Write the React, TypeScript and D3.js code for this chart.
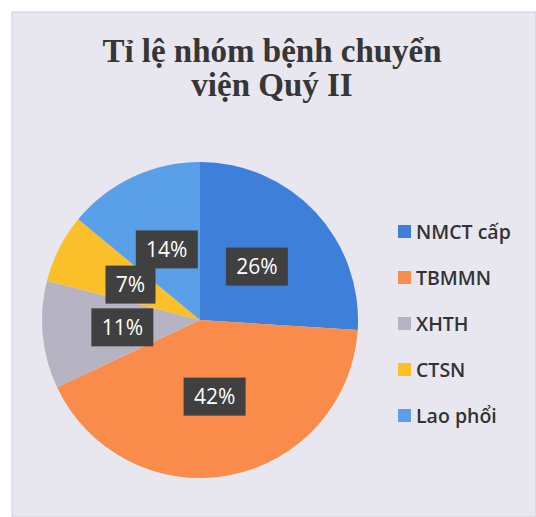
import React, { useEffect, useRef } from "react";
import * as d3 from "d3";

const categories = ["NMCT cấp", "TBMMN", "XHTH", "CTSN", "Lao phổi"];
const values = [26, 42, 11, 7, 14];
const colors = ["#3d7fd9", "#f98c4a", "#b6b3c2", "#fbbf2a", "#5aa0e8"];
const titleLines = ["Tỉ lệ nhóm bệnh chuyển", "viện Quý II"];

const App = () => {
  const svgRef = useRef<SVGSVGElement>(null);

  useEffect(() => {
    const width = 536;
    const height = 517;
    const svg = d3.select(svgRef.current);
    svg.selectAll("*").remove();

    // panel background
    svg
      .append("rect")
      .attr("x", 12)
      .attr("y", 12)
      .attr("width", width - 12)
      .attr("height", height - 12)
      .attr("fill", "#e8e6ee")
      .attr("stroke", "#d0ced6");

    // title
    svg
      .append("g")
      .selectAll("text")
      .data(titleLines)
      .enter()
      .append("text")
      .attr("x", 272)
      .attr("y", (d, i) => 62 + i * 34)
      .attr("text-anchor", "middle")
      .style("font-family", "'Liberation Serif', 'Times New Roman', serif")
      .style("font-weight", "bold")
      .style("font-size", "33px")
      .style("fill", "#363636")
      .text((d) => d);

    const radius = 158;
    const g = svg.append("g").attr("transform", "translate(200,320)");

    const pie = d3
      .pie<number>()
      .sort(null)
      .value((d) => d);
    const arcs = pie(values);
    const arc = d3.arc<d3.PieArcDatum<number>>().innerRadius(0).outerRadius(radius);
    const labelArc = d3
      .arc<d3.PieArcDatum<number>>()
      .innerRadius(156)
      .outerRadius(0);

    g.selectAll("path")
      .data(arcs)
      .enter()
      .append("path")
      .attr("d", arc)
      .attr("fill", (d, i) => colors[i]);

    // data labels
    const labels = g
      .selectAll(".lbl")
      .data(arcs)
      .enter()
      .append("g")
      .attr("class", "lbl")
      .attr("transform", (d) => `translate(${labelArc.centroid(d)})`);

    labels
      .append("rect")
      .attr("x", (d) => (d.data < 10 ? -25 : -31))
      .attr("y", -19)
      .attr("width", (d) => (d.data < 10 ? 50 : 62))
      .attr("height", 38)
      .attr("fill", "#404040");

    labels
      .append("text")
      .attr("text-anchor", "middle")
      .attr("dy", "0.36em")
      .style("font-family", "'Open Sans', sans-serif")
      .style("font-size", "21px")
      .style("fill", "#ffffff")
      .text((d) => `${d.data}%`);

    // legend
    const legend = svg
      .append("g")
      .selectAll("g")
      .data(categories)
      .enter()
      .append("g")
      .attr("transform", (d, i) => `translate(398,${232 + i * 46})`);

    legend
      .append("rect")
      .attr("x", 0)
      .attr("y", -7)
      .attr("width", 13)
      .attr("height", 13)
      .attr("fill", (d, i) => colors[i]);

    legend
      .append("text")
      .attr("x", 18)
      .attr("dy", "0.35em")
      .style("font-family", "'Open Sans', sans-serif")
      .style("font-size", "19.5px")
      .style("font-weight", 600)
      .style("fill", "#333333")
      .text((d) => d);
  }, []);

  return (
    <svg
      ref={svgRef}
      width={536}
      height={517}
      style={{ position: "absolute", left: 0, top: 0 }}
    ></svg>
  );
};

export default App;
